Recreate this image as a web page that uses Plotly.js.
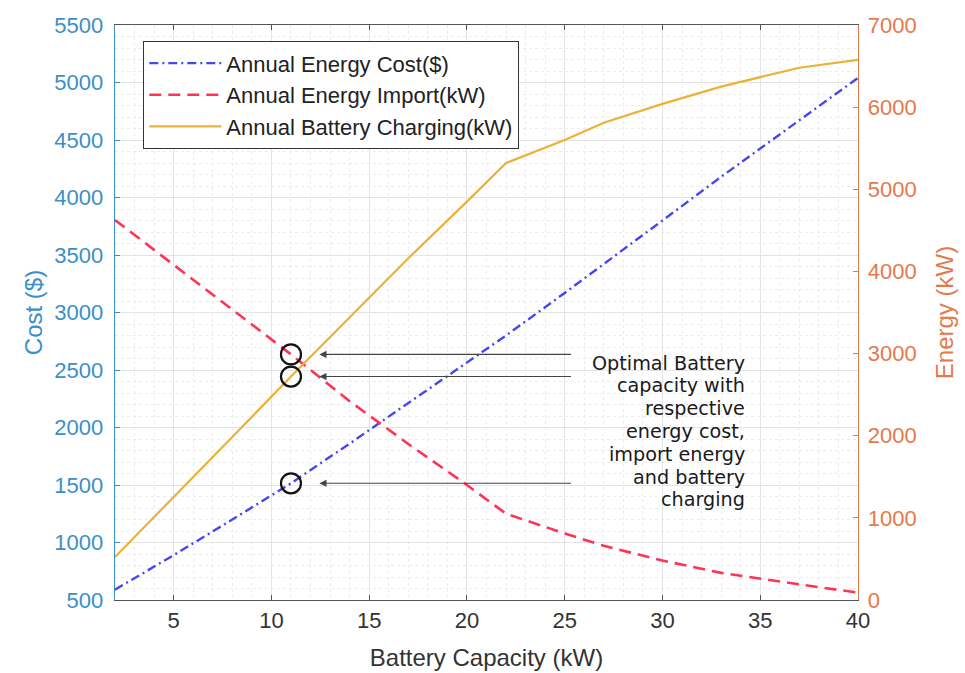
<!DOCTYPE html>
<html>
<head>
<meta charset="utf-8">
<script src="https://cdn.plot.ly/plotly-3.0.1.min.js"></script>
<style>
  html, body { margin: 0; padding: 0; background: #ffffff; }
  #chart { width: 965px; height: 673px; }
</style>
</head>
<body>
<div id="chart"></div>
<script>
// Battery capacity sweep (kW)
const capacity = [2, 5, 8, 11, 14, 17, 20, 22, 25, 27, 30, 33, 37, 40];

// Annual energy cost ($) - left axis
const energyCost = [590, 890, 1200, 1515, 1860, 2210, 2560, 2800, 3170, 3420, 3800, 4180, 4670, 5040];

// Annual energy import (kW) - right axis
const energyImport = [4626, 4080, 3540, 2990, 2420, 1900, 1400, 1050, 810, 660, 480, 330, 190, 90];

// Annual battery charging (kW) - right axis
const batteryCharging = [523, 1250, 1985, 2720, 3440, 4160, 4850, 5320, 5600, 5810, 6040, 6250, 6480, 6575];

// Tick labels
const xTicks = [5, 10, 15, 20, 25, 30, 35, 40];
const costTicks = [500, 1000, 1500, 2000, 2500, 3000, 3500, 4000, 4500, 5000, 5500];
const energyTicks = [0, 1000, 2000, 3000, 4000, 5000, 6000, 7000];

// Selected operating point
const optimalCapacity = 11;
const noteLines = ["Optimal Battery", "capacity with", "respective", "energy cost,", "import energy", "and battery", "charging"];

const iOpt = capacity.indexOf(optimalCapacity);

const leftColor = "#3b8fc9";
const rightColor = "#e5794b";
const fontMain = "Liberation Sans, Arial, sans-serif";

const circleMarker = { symbol: "circle-open", size: 20, color: "#111", line: { width: 2.2, color: "#111" } };

const traces = [
  {
    x: capacity, y: energyCost, yaxis: "y", type: "scatter", mode: "lines",
    name: "Annual Energy Cost($)",
    line: { color: "#4646f0", width: 2.4, dash: "9px,4px,2px,4px" }
  },
  {
    x: capacity, y: energyImport, yaxis: "y2", type: "scatter", mode: "lines",
    name: "Annual Energy Import(kW)",
    line: { color: "#ff3352", width: 2.6, dash: "12px,7px" }
  },
  {
    x: capacity, y: batteryCharging, yaxis: "y2", type: "scatter", mode: "lines",
    name: "Annual Battery Charging(kW)",
    line: { color: "#ebb138", width: 2.2 }
  },
  // circles around the chosen capacity on each curve
  {
    x: [capacity[iOpt]], y: [energyCost[iOpt]], yaxis: "y", type: "scatter", mode: "markers",
    showlegend: false, hoverinfo: "skip", marker: circleMarker
  },
  {
    x: [capacity[iOpt], capacity[iOpt]], y: [energyImport[iOpt], batteryCharging[iOpt]], yaxis: "y2",
    type: "scatter", mode: "markers", showlegend: false, hoverinfo: "skip", marker: circleMarker
  }
];

// plot area in pixels
const plotL = 115, plotR = 858, plotT = 25, plotB = 600;
const px2x = p => (p - plotL) / (plotR - plotL);
const px2y = p => (plotB - p) / (plotB - plotT);

// arrows pointing at the circled points
const arrowTailX = 25.4;
const arrowHeadX = 12.45;
function arrow(yValue, axis) {
  return {
    x: arrowHeadX, y: yValue, xref: "x", yref: axis,
    ax: arrowTailX, ay: yValue, axref: "x", ayref: axis,
    text: "", showarrow: true, arrowhead: 2, arrowsize: 1.3, arrowwidth: 1.1,
    arrowcolor: "#444"
  };
}

const annotations = [
  arrow(energyImport[iOpt], "y2"),
  arrow(batteryCharging[iOpt], "y2"),
  arrow(energyCost[iOpt], "y")
];

// the explanatory note, one right-aligned line at a time
noteLines.forEach((line, i) => {
  annotations.push({
    x: px2x(746), y: px2y(363 + i * 22.8), xref: "paper", yref: "paper",
    text: line, showarrow: false, xanchor: "right", yanchor: "middle", borderpad: 0,
    font: { family: "DejaVu Sans, sans-serif", size: 19.2, color: "#1a1a1a" }
  });
});

const layout = {
  width: 965, height: 673,
  margin: { l: plotL, r: 965 - plotR, t: plotT, b: 673 - plotB, pad: 0 },
  paper_bgcolor: "#ffffff", plot_bgcolor: "#ffffff",
  font: { family: fontMain, color: "#333" },
  showlegend: true,
  legend: {
    x: px2x(143), y: px2y(41),
    xanchor: "left", yanchor: "top",
    bgcolor: "#ffffff", bordercolor: "#333", borderwidth: 1.3,
    font: { family: fontMain, size: 22, color: "#222" },
    itemwidth: 72, tracegroupgap: 0
  },
  xaxis: {
    range: [2, 40], tickvals: xTicks, ticks: "inside", ticklen: 5, tickcolor: "#555",
    showline: true, linecolor: "#555", linewidth: 1.3, mirror: "ticks",
    tickfont: { size: 22, color: "#333" },
    title: { text: "Battery Capacity (kW)", font: { size: 24, color: "#333" }, standoff: 17 },
    showgrid: true, gridcolor: "#e4e4e4", gridwidth: 1,
    minor: { dtick: 1, showgrid: true, gridcolor: "#ececec", griddash: "dot", ticks: "" },
    zeroline: false, automargin: false
  },
  yaxis: {
    range: [500, 5500], tickvals: costTicks, ticks: "inside", ticklen: 5, tickcolor: leftColor,
    showline: true, linecolor: leftColor, linewidth: 1.3,
    tickfont: { size: 22, color: leftColor },
    title: { text: "Cost ($)", font: { size: 24, color: leftColor }, standoff: 5 },
    showgrid: true, gridcolor: "#e4e4e4", gridwidth: 1,
    minor: { dtick: 100, showgrid: true, gridcolor: "#ececec", griddash: "dot", ticks: "" },
    zeroline: false, automargin: false, ticklabelstandoff: 6
  },
  yaxis2: {
    range: [0, 7000], tickvals: energyTicks, overlaying: "y", side: "right",
    ticks: "inside", ticklen: 5, tickcolor: rightColor,
    showline: true, linecolor: rightColor, linewidth: 1.3,
    tickfont: { size: 22, color: rightColor },
    title: { text: "Energy (kW)", font: { size: 24, color: rightColor }, standoff: 20 },
    showgrid: false, zeroline: false, automargin: false, ticklabelstandoff: 4
  },
  annotations: annotations
};

Plotly.newPlot("chart", traces, layout, { displayModeBar: false, staticPlot: true });
</script>
</body>
</html>
